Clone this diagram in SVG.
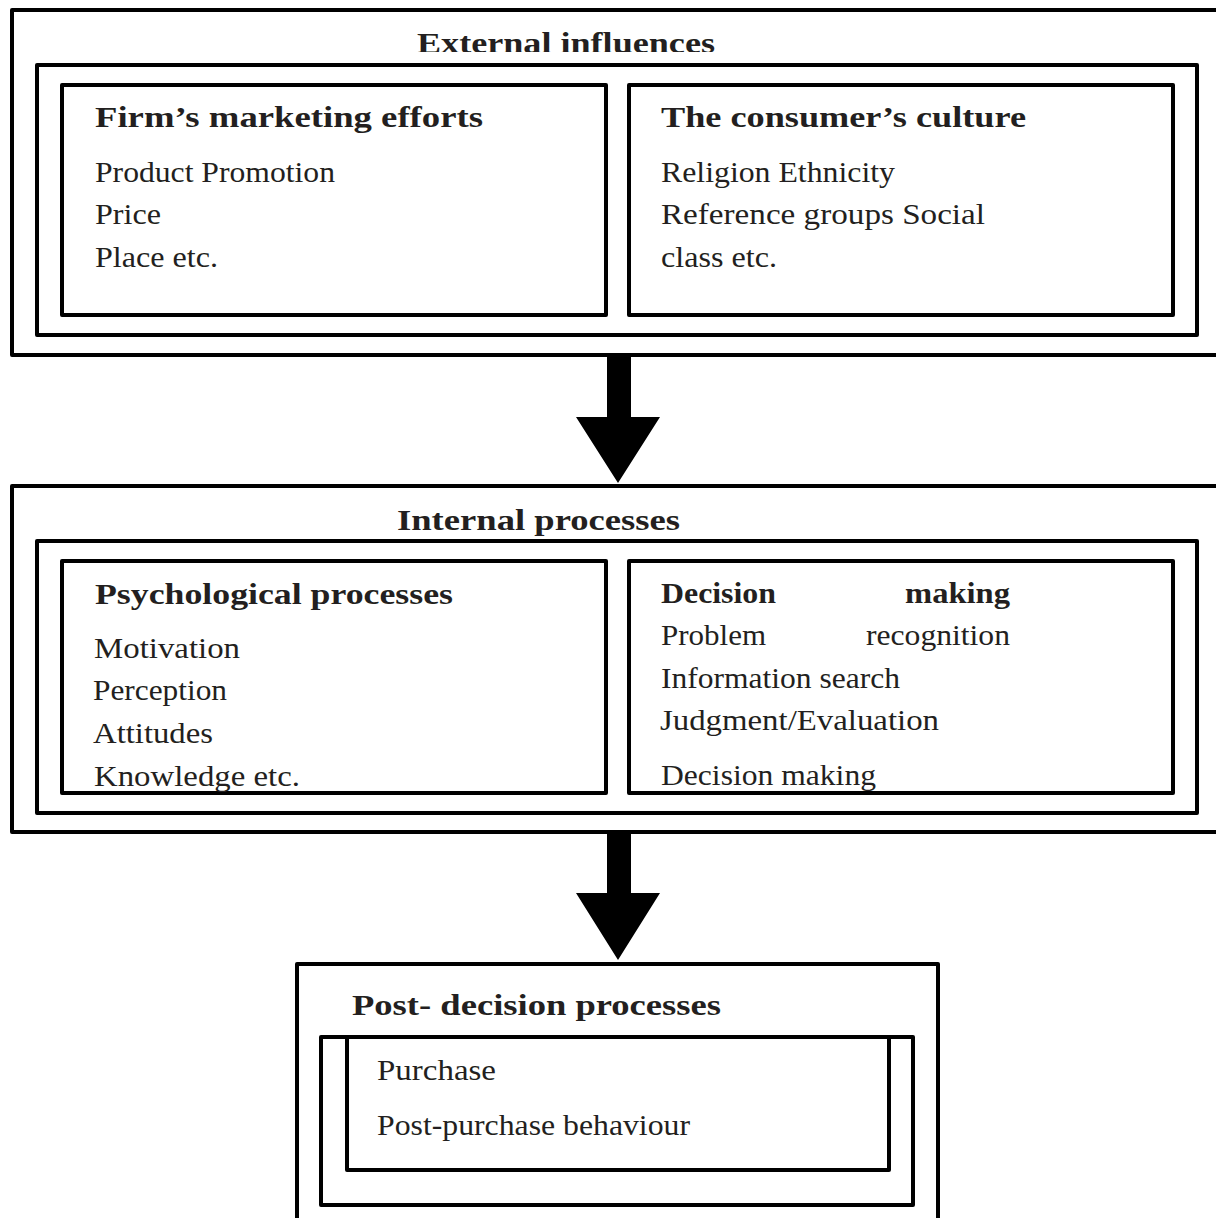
<svg xmlns="http://www.w3.org/2000/svg" width="1216" height="1218" viewBox="0 0 1216 1218">
<style>
.box{fill:none;stroke:#000;stroke-width:4;stroke-linejoin:round}
.t{font-family:'Liberation Serif',serif;font-size:30px;fill:#231f20}
.b{font-weight:bold}
.arrow{fill:#000;stroke:none}
</style>
<defs>
<clipPath id="clipExt"><rect x="0" y="0" width="1216" height="52"/></clipPath>
</defs>
<rect x="0" y="0" width="1216" height="1218" fill="#fff"/>

<g id="external">
<rect class="box" x="12" y="10" width="1220" height="345"/>
<text class="t b" x="417" y="53" textLength="298" lengthAdjust="spacingAndGlyphs" clip-path="url(#clipExt)">External influences</text>
<rect class="box" x="37" y="65" width="1160" height="270"/>
</g>

<g id="firm">
<rect class="box" x="62" y="85" width="544" height="230"/>
<text class="t b" x="95" y="127" textLength="388" lengthAdjust="spacingAndGlyphs">Firm’s marketing efforts</text>
<text class="t" x="95" y="182" textLength="240" lengthAdjust="spacingAndGlyphs">Product Promotion</text>
<text class="t" x="95" y="224" textLength="66" lengthAdjust="spacingAndGlyphs">Price</text>
<text class="t" x="95" y="267" textLength="123" lengthAdjust="spacingAndGlyphs">Place etc.</text>
</g>

<g id="culture">
<rect class="box" x="629" y="85" width="544" height="230"/>
<text class="t b" x="661" y="127" textLength="365" lengthAdjust="spacingAndGlyphs">The consumer’s culture</text>
<text class="t" x="661" y="182" textLength="234" lengthAdjust="spacingAndGlyphs">Religion Ethnicity</text>
<text class="t" x="661" y="224" textLength="324" lengthAdjust="spacingAndGlyphs">Reference groups Social</text>
<text class="t" x="661" y="267" textLength="116" lengthAdjust="spacingAndGlyphs">class etc.</text>
</g>

<g id="internal">
<rect class="box" x="12" y="486" width="1220" height="346"/>
<text class="t b" x="397" y="530" textLength="283" lengthAdjust="spacingAndGlyphs">Internal processes</text>
<rect class="box" x="37" y="541" width="1160" height="272"/>
</g>

<g id="psychological">
<rect class="box" x="62" y="561" width="544" height="232"/>
<text class="t b" x="95" y="604" textLength="358" lengthAdjust="spacingAndGlyphs">Psychological processes</text>
<text class="t" x="94" y="658" textLength="146" lengthAdjust="spacingAndGlyphs">Motivation</text>
<text class="t" x="93" y="700" textLength="134" lengthAdjust="spacingAndGlyphs">Perception</text>
<text class="t" x="93" y="743" textLength="120" lengthAdjust="spacingAndGlyphs">Attitudes</text>
<text class="t" x="94" y="786" textLength="206" lengthAdjust="spacingAndGlyphs">Knowledge etc.</text>
</g>

<g id="decision">
<rect class="box" x="629" y="561" width="544" height="232"/>
<text class="t b" y="603"><tspan x="661" textLength="115" lengthAdjust="spacingAndGlyphs">Decision</tspan> <tspan x="905" textLength="105" lengthAdjust="spacingAndGlyphs">making</tspan></text>
<text class="t" y="645"><tspan x="661" textLength="105" lengthAdjust="spacingAndGlyphs">Problem</tspan> <tspan x="866" textLength="144" lengthAdjust="spacingAndGlyphs">recognition</tspan></text>
<text class="t" x="661" y="688" textLength="239" lengthAdjust="spacingAndGlyphs">Information search</text>
<text class="t" x="660" y="730" textLength="279" lengthAdjust="spacingAndGlyphs">Judgment/Evaluation</text>
<text class="t" x="661" y="785" textLength="215" lengthAdjust="spacingAndGlyphs">Decision making</text>
</g>

<g id="postdecision">
<rect class="box" x="297" y="964" width="641" height="300"/>
<text class="t b" x="352" y="1015" textLength="369" lengthAdjust="spacingAndGlyphs">Post- decision processes</text>
<rect class="box" x="321" y="1037" width="592" height="168"/>
<rect class="box" x="347" y="1037" width="542" height="133"/>
<text class="t" x="377" y="1080" textLength="119" lengthAdjust="spacingAndGlyphs">Purchase</text>
<text class="t" x="377" y="1135" textLength="313" lengthAdjust="spacingAndGlyphs">Post-purchase behaviour</text>
</g>

<g id="connectors">
<polygon class="arrow" points="607,357 631,357 631,417 660,417 618,483 576,417 607,417"/>
<polygon class="arrow" points="607,834 631,834 631,893 660,893 618,960 576,893 607,893"/>
</g>
</svg>
